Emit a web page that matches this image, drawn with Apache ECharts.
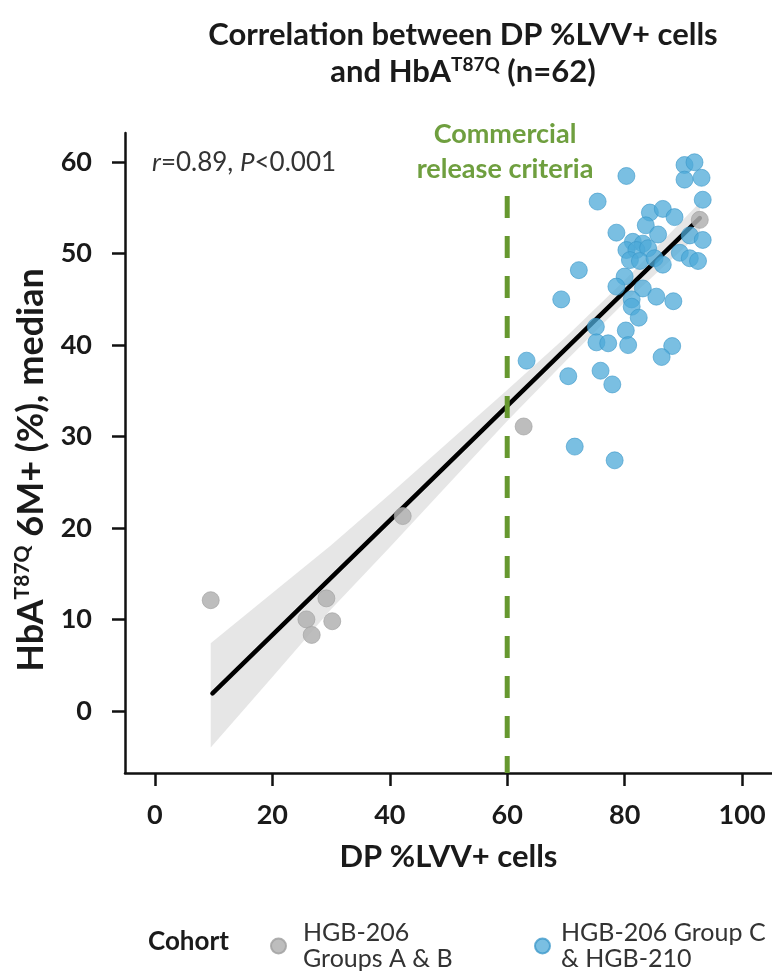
<!DOCTYPE html>
<html>
<head>
<meta charset="utf-8">
<script src="https://cdn.jsdelivr.net/npm/echarts@6/dist/echarts.min.js"></script>
<style>
html,body{margin:0;padding:0;background:#ffffff;}
#chart{width:772px;height:979px;}
</style>
</head>
<body>
<div id="chart"></div>
<script>
// ---- Data ----
const seriesNames = ['HGB-206\nGroups A & B', 'HGB-206 Group C\n& HGB-210'];

// HGB-206 Groups A & B (grey)
const groupAB_x = [9.5, 25.8, 26.7, 29.2, 30.2, 42.2, 62.8, 92.8];
const groupAB_y = [12.1, 10.0, 8.3, 12.3, 9.8, 21.3, 31.1, 53.7];

// HGB-206 Group C & HGB-210 (blue)
const groupC_x = [80.3, 75.4, 90.2, 91.9, 90.2, 93.1, 93.3, 84.3, 86.5, 88.5,
                  83.6, 78.6, 85.7, 91.1, 93.3, 81.4, 83.1, 80.3, 82.0, 84.0,
                  80.9, 82.6, 85.1, 86.5, 89.4, 91.1, 92.5, 72.2, 80.0, 78.6,
                  83.1, 85.4, 88.3, 69.2, 81.2, 81.2, 82.4, 75.1, 80.2, 75.2,
                  77.2, 80.6, 88.1, 86.3, 63.3, 70.4, 75.9, 77.9, 71.5, 78.3];
const groupC_y = [58.5, 55.7, 59.7, 60.0, 58.1, 58.3, 55.9, 54.5, 54.9, 54.0,
                  53.1, 52.3, 52.1, 52.0, 51.5, 51.3, 51.1, 50.4, 50.4, 50.6,
                  49.3, 49.2, 49.5, 48.8, 50.1, 49.5, 49.2, 48.2, 47.5, 46.4,
                  46.2, 45.3, 44.8, 45.0, 45.0, 44.2, 43.0, 42.0, 41.6, 40.3,
                  40.2, 40.0, 39.9, 38.7, 38.3, 36.6, 37.2, 35.7, 28.9, 27.4];

// Regression line end points and confidence band
const fitLine_x = [9.8, 92.8];
const fitLine_y = [1.9, 53.9];
const band_x     = [9.5, 20, 30, 40, 50, 60, 70, 80, 92.8];
const band_lower = [-4.0, 3.7, 11.1, 17.9, 24.8, 31.7, 38.3, 44.7, 52.2];
const band_upper = [7.4, 12.9, 18.1, 23.7, 29.4, 35.1, 40.9, 47.1, 55.6];

// Commercial release criteria (vertical dashed line)
const releaseCriterion_x = 60;
const releaseLine_y = [56.3, -6.8];

// Axes
const xTicks = [0, 20, 40, 60, 80, 100];
const yTicks = [0, 10, 20, 30, 40, 50, 60];
const xRange = [-5.1, 105.1];
const yRange = [-6.8, 63.2];

// ---- Chart ----
const FONT = 'Lato';
const chart = echarts.init(document.getElementById('chart'), null, {renderer: 'canvas'});

const abData = groupAB_x.map((x, i) => [x, groupAB_y[i]]);
const cData = groupC_x.map((x, i) => [x, groupC_y[i]]);
const fitData = fitLine_x.map((x, i) => [x, fitLine_y[i]]);
const bandData = band_x.map((x, i) => [x, band_lower[i], band_upper[i]]);
const releaseData = releaseLine_y.map(y => [releaseCriterion_x, y]);

const axisColor = '#111111';
function legendAt(left, name, padLeft) {
  return {
    orient: 'horizontal',
    left: left,
    top: 915,
    itemWidth: 15,
    itemHeight: 15,
    icon: 'circle',
    data: [name],
    textStyle: {fontFamily: FONT, fontSize: 25, lineHeight: 26, color: '#333333', padding: [0, 0, 0, padLeft]}
  };
}

const option = {
  backgroundColor: '#ffffff',
  animation: false,
  grid: {left: 125, right: 0, top: 133, bottom: 206, containLabel: false},
  xAxis: {
    type: 'value',
    min: xRange[0], max: xRange[1],
    name: 'DP %LVV+ cells',
    nameLocation: 'middle',
    nameGap: 68,
    nameTextStyle: {fontFamily: FONT, fontWeight: 'bold', fontSize: 31, color: '#1a1a1a'},
    axisLine: {show: true, onZero: false, lineStyle: {color: axisColor, width: 2.5}},
    axisTick: {show: true, length: 13, lineStyle: {color: axisColor, width: 2.5}, customValues: xTicks},
    axisLabel: {customValues: xTicks, margin: 29, fontFamily: FONT, fontWeight: 'bold', fontSize: 27, color: '#1a1a1a'},
    splitLine: {show: false}
  },
  yAxis: {
    type: 'value',
    min: yRange[0], max: yRange[1],
    name: '{b|HbA}{s|T87Q}{b| 6M+ (%), median}',
    nameLocation: 'middle',
    nameGap: 68,
    nameTextStyle: {
      padding: [0, 34, 0, 0],
      rich: {
        b: {fontFamily: FONT, fontWeight: 'bold', fontSize: 36, color: '#1a1a1a', lineHeight: 40},
        s: {fontFamily: FONT, fontWeight: 'bold', fontSize: 21, color: '#1a1a1a', lineHeight: 21, verticalAlign: 'top'}
      }
    },
    axisLine: {show: true, onZero: false, lineStyle: {color: axisColor, width: 2.5}},
    axisTick: {show: true, length: 13, lineStyle: {color: axisColor, width: 2.5}, customValues: yTicks},
    axisLabel: {customValues: yTicks, margin: 33, fontFamily: FONT, fontWeight: 'bold', fontSize: 27, color: '#1a1a1a'},
    splitLine: {show: false}
  },
  legend: [
    legendAt(265, seriesNames[0], 12),
    legendAt(529, seriesNames[1], 6)
  ],
  graphic: [
    {type: 'text', silent: true, style: {
      x: 463, y: 35, align: 'center', verticalAlign: 'middle',
      text: 'Correlation between DP %LVV+ cells',
      fontFamily: FONT, fontWeight: 'bold', fontSize: 31, fill: '#1a1a1a'}},
    {type: 'text', silent: true, style: {
      x: 463, y: 72, align: 'center', verticalAlign: 'middle',
      text: '{a|and HbA}{s|T87Q}{a| (n=62)}',
      rich: {
        a: {fontFamily: FONT, fontWeight: 'bold', fontSize: 31, fill: '#1a1a1a', lineHeight: 34},
        s: {fontFamily: FONT, fontWeight: 'bold', fontSize: 19, fill: '#1a1a1a', lineHeight: 19, verticalAlign: 'top'}
      }}},
    {type: 'text', silent: true, style: {
      x: 505, y: 152, align: 'center', verticalAlign: 'middle',
      text: 'Commercial\nrelease criteria', lineHeight: 35,
      fontFamily: FONT, fontWeight: 'bold', fontSize: 27, fill: '#6f9f3f'}},
    {type: 'text', silent: true, style: {
      x: 152, y: 163, align: 'left', verticalAlign: 'middle',
      text: '{i|r}{n|=0.89, }{i|P}{n|<0.001}',
      rich: {
        i: {fontFamily: FONT, fontStyle: 'italic', fontSize: 26, fill: '#333333'},
        n: {fontFamily: FONT, fontSize: 26, fill: '#333333'}
      }}},
    {type: 'text', silent: true, style: {
      x: 148, y: 942, align: 'left', verticalAlign: 'middle',
      text: 'Cohort', fontFamily: FONT, fontWeight: 'bold', fontSize: 26, fill: '#1a1a1a'}}
  ],
  series: [
    {
      type: 'custom',
      name: 'band',
      silent: true,
      z: 1,
      clip: true,
      data: bandData,
      encode: {x: 0, y: [1, 2]},
      renderItem: function (params, api) {
        if (params.dataIndex !== 0) return null;
        const pts = [];
        for (let i = 0; i < bandData.length; i++) pts.push(api.coord([bandData[i][0], bandData[i][2]]));
        for (let i = bandData.length - 1; i >= 0; i--) pts.push(api.coord([bandData[i][0], bandData[i][1]]));
        return {type: 'polygon', shape: {points: pts}, style: {fill: '#e6e6e6', stroke: null}};
      }
    },
    {
      type: 'line',
      name: 'fit',
      data: fitData,
      z: 2,
      symbol: 'none',
      silent: true,
      lineStyle: {color: '#000000', width: 4.5, cap: 'round'}
    },
    {
      type: 'line',
      name: 'release',
      data: releaseData,
      z: 3,
      symbol: 'none',
      silent: true,
      lineStyle: {color: '#66982f', width: 5, type: [22, 18]}
    },
    {
      type: 'scatter',
      name: seriesNames[0],
      data: abData,
      z: 4,
      symbolSize: 17,
      itemStyle: {color: '#b2b2b2', opacity: 0.85, borderColor: '#a2a2a2', borderWidth: 0.8}
    },
    {
      type: 'scatter',
      name: seriesNames[1],
      data: cData,
      z: 5,
      symbolSize: 17,
      itemStyle: {color: '#4eaad8', opacity: 0.75, borderColor: '#3896c8', borderWidth: 0.8}
    }
  ]
};
chart.setOption(option);
</script>
</body>
</html>
